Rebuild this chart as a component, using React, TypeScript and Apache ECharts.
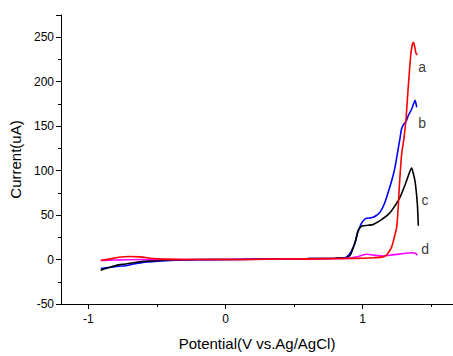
import React, { useEffect, useRef } from "react";
import * as echarts from "echarts";

const seriesA: [number, number][] = [
  [-0.91, -1], [-0.85, 0.5], [-0.78, 2.5], [-0.7, 3.5], [-0.62, 3], [-0.55, 1.5], [-0.45, 0.5],
  [-0.3, 0], [0, 0], [0.3, 0.3], [0.6, 0.8], [0.9, 1.2], [1.0, 1.5], [1.08, 2], [1.15, 3],
  [1.18, 6], [1.212, 14], [1.23, 24], [1.249, 36.5], [1.26, 58], [1.268, 81], [1.285, 118],
  [1.302, 136], [1.317, 158], [1.334, 195], [1.353, 232], [1.365, 243], [1.372, 244],
  [1.382, 238], [1.39, 232], [1.4, 230],
];
const seriesB: [number, number][] = [
  [-0.91, -10], [-0.85, -9], [-0.78, -7.5], [-0.73, -7], [-0.67, -5], [-0.61, -3.5], [-0.5, -2],
  [-0.4, -1], [-0.2, -0.3], [0, 0], [0.3, 0.5], [0.6, 1], [0.8, 1.5], [0.87, 2], [0.9, 5],
  [0.92, 10], [0.944, 18], [0.965, 30], [0.99, 40], [1.01, 44.5], [1.03, 46.5], [1.055, 46.8],
  [1.078, 47.5], [1.1, 49.5], [1.127, 53], [1.16, 63], [1.19, 77], [1.215, 90], [1.236, 103],
  [1.255, 120], [1.273, 136], [1.285, 147], [1.3, 152], [1.317, 155], [1.334, 162],
  [1.358, 169], [1.372, 175], [1.383, 179], [1.395, 171],
];
const seriesC: [number, number][] = [
  [-0.91, -12], [-0.85, -9], [-0.78, -6], [-0.73, -5], [-0.65, -3], [-0.55, -1.5], [-0.4, -0.5],
  [-0.2, 0], [0, 0], [0.3, 0.5], [0.6, 1], [0.8, 1.5], [0.883, 2], [0.91, 5], [0.93, 12.5],
  [0.95, 22], [0.968, 33], [0.985, 36.5], [1.005, 38], [1.04, 38.5], [1.078, 39.5], [1.13, 44],
  [1.19, 51], [1.23, 59], [1.273, 70], [1.32, 88], [1.345, 99], [1.358, 103], [1.37, 97],
  [1.383, 88], [1.393, 75], [1.4, 62], [1.404, 50], [1.407, 38],
];
const seriesD: [number, number][] = [
  [-0.91, -1], [-0.8, -0.5], [-0.6, 0], [-0.3, 0], [0, 0], [0.3, 0.3], [0.6, 0.8], [0.9, 1.5],
  [0.97, 3.5], [1.03, 6], [1.08, 5], [1.15, 4], [1.2, 4.8], [1.25, 5.8], [1.3, 6.8],
  [1.358, 7.7], [1.385, 7], [1.4, 5],
];
const curveNames = ["a", "b", "c", "d"];
const curveColors = ["#ff0000", "#0000ff", "#000000", "#ff00ff"];
const labelPoints: [number, number][] = [
  [1.434, 216], [1.434, 153], [1.456, 67], [1.456, 12],
];
const xMajorTicks = [-1, 0, 1];
const xMinorTicks = [-0.5, 0.5, 1.5];

export default function App() {
  const ref = useRef<HTMLDivElement>(null);
  useEffect(() => {
    if (!ref.current) return;
    const chart = echarts.init(ref.current, null, { renderer: "svg" });
    const font = "Liberation Sans, Arial, sans-serif";
    const datasets = [seriesA, seriesB, seriesC, seriesD];
    const lineSeries = datasets.map((d, i) => ({
      type: "line",
      name: curveNames[i],
      data: d,
      smooth: 0.3,
      showSymbol: false,
      xAxisIndex: 0,
      yAxisIndex: 0,
      lineStyle: { color: curveColors[i], width: 1.6 },
      z: i === 0 ? 3 : 2,
    }));
    const labelSeries = {
      type: "scatter",
      xAxisIndex: 0,
      yAxisIndex: 0,
      symbolSize: 0,
      data: labelPoints.map((p, i) => ({ value: p, name: curveNames[i] })),
      label: {
        show: true,
        position: "inside",
        formatter: (p: any) => p.name,
        color: "#000",
        fontSize: 14,
        fontFamily: font,
      },
    };
    chart.setOption({
      animation: false,
      grid: { left: 61, top: 15, right: 0, bottom: 48, containLabel: false },
      xAxis: [
        {
          type: "value",
          min: -1.2,
          max: 1.66,
          name: "Potential(V vs.Ag/AgCl)",
          nameLocation: "middle",
          nameGap: 32,
          nameTextStyle: { fontFamily: font, fontSize: 15, color: "#000" },
          axisLine: { show: true, onZero: false, lineStyle: { color: "#000", width: 1 } },
          axisTick: { show: true, customValues: xMajorTicks, length: 5, lineStyle: { color: "#000" } },
          axisLabel: {
            customValues: xMajorTicks,
            fontFamily: font,
            fontSize: 12,
            color: "#000",
            margin: 9,
          },
          splitLine: { show: false },
        },
        {
          type: "value",
          min: -1.2,
          max: 1.66,
          position: "bottom",
          axisLine: { show: false, onZero: false },
          axisTick: { show: true, customValues: xMinorTicks, length: 3, lineStyle: { color: "#000" } },
          axisLabel: { show: false },
          splitLine: { show: false },
        },
      ],
      yAxis: {
        type: "value",
        min: -50,
        max: 275,
        interval: 50,
        name: "Current(uA)",
        nameLocation: "middle",
        nameGap: 36,
        nameRotate: 90,
        nameTextStyle: { fontFamily: font, fontSize: 15, color: "#000" },
        axisLine: { show: true, onZero: false, lineStyle: { color: "#000", width: 1 } },
        axisTick: { show: true, length: 5, lineStyle: { color: "#000" } },
        minorTick: { show: true, splitNumber: 2, length: 3, lineStyle: { color: "#000" } },
        axisLabel: { fontFamily: font, fontSize: 12, color: "#000", margin: 7, showMaxLabel: false },
        splitLine: { show: false },
      },
      series: [...lineSeries, labelSeries],
    });
    return () => chart.dispose();
  }, []);
  return (
    <div
      ref={ref}
      style={{ position: "fixed", left: 0, top: 0, width: 453, height: 356, background: "#fff" }}
    />
  );
}
